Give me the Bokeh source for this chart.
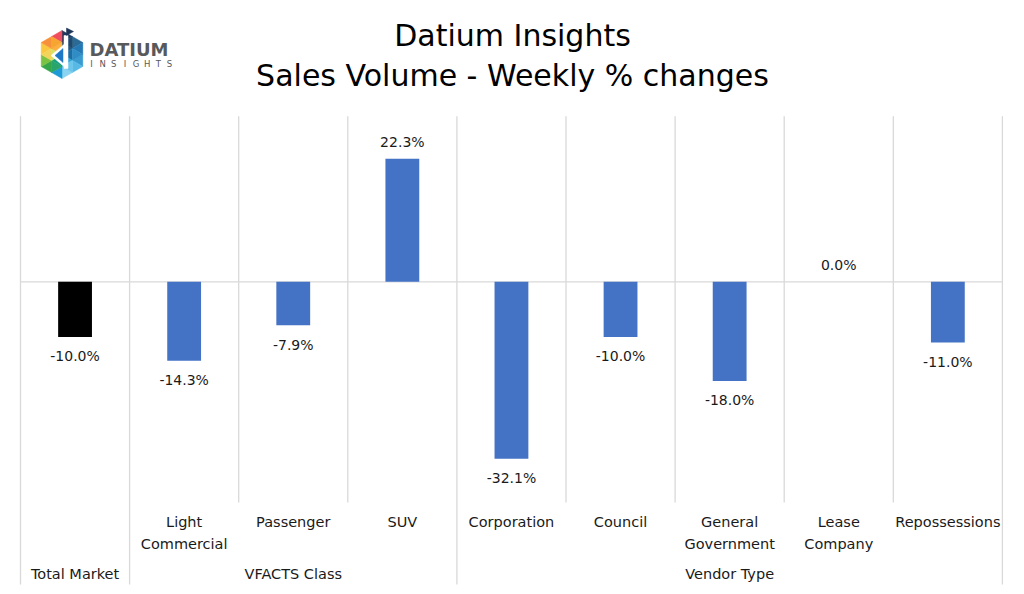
import math
from bokeh.plotting import figure
from bokeh.models import Range1d
from bokeh.core.properties import value
from bokeh.embed import file_html
from bokeh.resources import INLINE

# ---------------- data ----------------
title_lines = ["Datium Insights", "Sales Volume - Weekly % changes"]
sub_labels = ["", "Light\nCommercial", "Passenger", "SUV", "Corporation",
              "Council", "General\nGovernment", "Lease\nCompany", "Repossessions"]
groups = ["Total Market", "VFACTS Class", "VFACTS Class", "VFACTS Class",
          "Vendor Type", "Vendor Type", "Vendor Type", "Vendor Type", "Vendor Type"]
values = [-10.0, -14.3, -7.9, 22.3, -32.1, -10.0, -18.0, 0.0, -11.0]
bar_colors = ["#000000", "#4472C4", "#4472C4", "#4472C4", "#4472C4",
              "#4472C4", "#4472C4", "#4472C4", "#4472C4"]
y_min, y_max = -40, 30

# ---------------- layout ----------------
W, H = 1016, 586
X0_PX = 20.0      # canvas px of first category boundary
CAT_PX = 109.1    # px per category
ZERO_PX = 281.3   # canvas px of value 0
UNIT_PX = 5.515   # px per 1 %

def sx(px):
    return (px - X0_PX) / CAT_PX

def sy(py):
    return (ZERO_PX - py) / UNIT_PX

p = figure(width=W, height=H, output_backend="svg", toolbar_location=None,
           x_range=Range1d(-X0_PX / CAT_PX, (W - X0_PX) / CAT_PX),
           y_range=Range1d((ZERO_PX - H) / UNIT_PX, ZERO_PX / UNIT_PX),
           x_axis_location=None, y_axis_location=None,
           min_border=0, outline_line_color=None,
           background_fill_color="white", border_fill_color="white")
p.xgrid.visible = False
p.ygrid.visible = False

n = len(values)
centers = [i + 0.5 for i in range(n)]
GRID = "#d9d9d9"
FONT = value("DejaVu Sans")
TXT = "#1a1a1a"

# separators
full_b = [0]
for i in range(1, n):
    if groups[i] != groups[i - 1]:
        full_b.append(i)
full_b.append(n)
inner_b = [i for i in range(1, n) if i not in full_b]
y_bottom_full = sy(584)
p.segment(x0=inner_b, y0=[y_min] * len(inner_b), x1=inner_b, y1=[y_max] * len(inner_b),
          line_color=GRID, line_width=1.3)
p.segment(x0=full_b, y0=[y_bottom_full] * len(full_b), x1=full_b, y1=[y_max] * len(full_b),
          line_color=GRID, line_width=1.3)
p.segment(x0=[0], y0=[0], x1=[n], y1=[0], line_color=GRID, line_width=1.3)

# bars
p.vbar(x=centers, top=values, bottom=0, width=0.31, fill_color=bar_colors, line_color=None)

# value labels
val_text = ["%.1f%%" % v for v in values]
label_y = [v + 3.0 if v >= 0 else v - 3.5 for v in values]
p.text(x=centers, y=label_y, text=val_text, text_align="center", text_baseline="middle",
       text_font=FONT, text_font_size=value("14px"), text_color=TXT)

# category labels
p.text(x=centers, y=[sy(513)] * n, text=sub_labels, text_align="center", text_baseline="top",
       text_line_height=1.4, text_font=FONT, text_font_size=value("14.5px"), text_color=TXT)

g_names, g_x = [], []
start = 0
for i in range(1, n + 1):
    if i == n or groups[i] != groups[start]:
        g_names.append(groups[start])
        g_x.append((start + i) / 2)
        start = i
p.text(x=g_x, y=[sy(573)] * len(g_x), text=g_names, text_align="center", text_baseline="middle",
       text_font=FONT, text_font_size=value("14.5px"), text_color=TXT)

# title
p.text(x=[sx(512), sx(512)], y=[sy(35), sy(75)], text=title_lines, text_align="center",
       text_baseline="middle", text_font=FONT, text_font_size=value("30px"), text_color="#000000")

# ---------------- logo ----------------
cx, cy, R = 61.5, 54.0, 24.0
angs = [90, 30, -30, -90, -150, 150]
verts = [(cx + R * math.cos(math.radians(a)), cy - R * math.sin(math.radians(a))) for a in angs]
sector_colors = [
    ["#27567d", "#1f3a5f", "#2b6a94", "#1f4a70"],   # upper right
    ["#1c6ea4", "#2479b5", "#3a9bd0", "#2f8cc4"],   # right
    ["#2ea7dd", "#56b9e6", "#8ad3f1", "#6cc6ec"],   # lower right
    ["#16a085", "#1e9ad6", "#37a54a", "#29a56a"],   # lower left
    ["#d8e36a", "#7cc242", "#f9c740", "#f3d45a"],   # left
    ["#fbb040", "#f7903a", "#f04e5e", "#f7a531"],   # upper left
]
xs, ys, cols = [], [], []
C = (cx, cy)
def mid(a, b):
    return ((a[0] + b[0]) / 2, (a[1] + b[1]) / 2)
for k in range(6):
    A = verts[k]
    B = verts[(k + 1) % 6]
    mCA, mAB, mCB = mid(C, A), mid(A, B), mid(C, B)
    tris = [(C, mCA, mCB), (mCA, A, mAB), (mCB, mAB, B), (mCA, mAB, mCB)]
    for t, col in zip(tris, sector_colors[k]):
        xs.append([sx(q[0]) for q in t])
        ys.append([sy(q[1]) for q in t])
        cols.append(col)
p.patches(xs, ys, fill_color=cols, line_color=cols, line_width=0.5)

# white "d" shape, blue triangle and navy flag
white_shapes = [
    [(63.5, 35), (67.5, 35), (67.5, 68), (63.5, 68)],
    [(50.5, 55), (64, 43.5), (64, 66.5)],
]
p.patches([[sx(q[0]) for q in s] for s in white_shapes],
          [[sy(q[1]) for q in s] for s in white_shapes],
          fill_color="white", line_color="white", line_width=0.5)
blue_tri = [(54.5, 55), (62.5, 48), (62.5, 62)]
p.patch([sx(q[0]) for q in blue_tri], [sy(q[1]) for q in blue_tri],
        fill_color="#1e78c8", line_color="#1e78c8", line_width=0.5)
flag = [(66, 27.5), (66, 35), (73, 31)]
p.patch([sx(q[0]) for q in flag], [sy(q[1]) for q in flag],
        fill_color="#1d3557", line_color="#1d3557", line_width=0.5)

p.text(x=[sx(89)], y=[sy(49)], text=["DATIUM"], text_align="left", text_baseline="middle",
       text_font=FONT, text_font_size=value("18px"), text_font_style="bold", text_color="#58595b")
letters = list("INSIGHTS")
lx = [sx(91 + i * (78 / 7)) for i in range(len(letters))]
p.text(x=lx, y=[sy(63.5)] * len(letters), text=letters, text_align="center", text_baseline="middle",
       text_font=FONT, text_font_size=value("8.5px"), text_color="#58595b")

open("out.html", "w").write(file_html(p, INLINE))
